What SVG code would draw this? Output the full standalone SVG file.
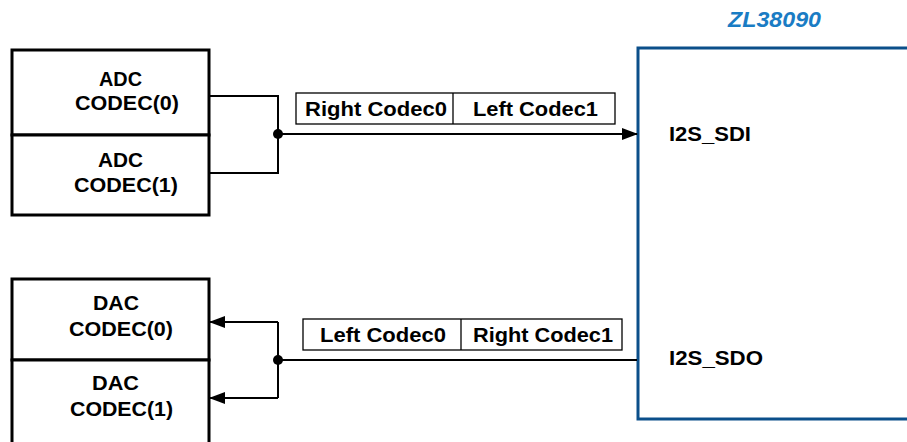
<svg xmlns="http://www.w3.org/2000/svg" width="907" height="442" viewBox="0 0 907 442">
<style>
.box{fill:#fff;stroke:#000;stroke-width:3}
.lbl{fill:#fff;stroke:#000;stroke-width:1.3}
.wire{fill:none;stroke:#000;stroke-width:2}
.t{font-family:"Liberation Sans",Arial,sans-serif;font-weight:bold;font-size:21px;fill:#000}
.s{font-family:"Liberation Sans",Arial,sans-serif;font-weight:bold;font-size:20px;fill:#000}
</style>
<defs>
<marker id="ah" markerWidth="16" markerHeight="12" refX="15" refY="6" orient="auto" markerUnits="userSpaceOnUse">
<path d="M0,0 L16,6 L0,12 Z" fill="#000"/>
</marker>
</defs>
<rect width="907" height="442" fill="#fff"/>
<g id="zl38090">
<rect x="638" y="48" width="290" height="371" fill="#fff" stroke="#0b4f8a" stroke-width="3"/>
<text x="728" y="27" textLength="93" lengthAdjust="spacingAndGlyphs" font-family="Liberation Sans,Arial,sans-serif" font-weight="bold" font-style="italic" font-size="22" fill="#1a7cc4">ZL38090</text>
<text class="t" x="669" y="141" textLength="82" lengthAdjust="spacingAndGlyphs">I2S_SDI</text>
<text class="t" x="669" y="365" textLength="94" lengthAdjust="spacingAndGlyphs">I2S_SDO</text>
</g>
<g id="adc0">
<rect class="box" x="12" y="50" width="197" height="85"/>
<text class="t" x="99" y="86" textLength="43" lengthAdjust="spacingAndGlyphs">ADC</text>
<text class="t" x="75" y="110" textLength="104" lengthAdjust="spacingAndGlyphs">CODEC(0)</text>
</g>
<g id="adc1">
<rect class="box" x="12" y="135" width="197" height="80"/>
<text class="t" x="98" y="167" textLength="45" lengthAdjust="spacingAndGlyphs">ADC</text>
<text class="t" x="74" y="192" textLength="104" lengthAdjust="spacingAndGlyphs">CODEC(1)</text>
</g>
<g id="dac0">
<rect class="box" x="12" y="279" width="197" height="81"/>
<text class="t" x="93" y="310" textLength="46" lengthAdjust="spacingAndGlyphs">DAC</text>
<text class="t" x="69" y="336" textLength="104" lengthAdjust="spacingAndGlyphs">CODEC(0)</text>
</g>
<g id="dac1">
<path class="box" d="M12,450 V360 H209 V450"/>
<text class="t" x="92" y="390" textLength="47" lengthAdjust="spacingAndGlyphs">DAC</text>
<text class="t" x="70" y="416" textLength="103" lengthAdjust="spacingAndGlyphs">CODEC(1)</text>
</g>
<g id="label-sdi">
<rect class="lbl" x="296" y="93" width="319" height="31"/>
<line x1="453" y1="93" x2="453" y2="124" stroke="#000" stroke-width="1.3"/>
<text class="s" x="305" y="116" textLength="142" lengthAdjust="spacingAndGlyphs">Right Codec0</text>
<text class="s" x="473" y="116" textLength="125" lengthAdjust="spacingAndGlyphs">Left Codec1</text>
</g>
<g id="label-sdo">
<rect class="lbl" x="303" y="319" width="319" height="31"/>
<line x1="461" y1="319" x2="461" y2="350" stroke="#000" stroke-width="1.3"/>
<text class="s" x="320" y="342" textLength="126" lengthAdjust="spacingAndGlyphs">Left Codec0</text>
<text class="s" x="473" y="342" textLength="140" lengthAdjust="spacingAndGlyphs">Right Codec1</text>
</g>
<g id="connectors">
<path class="wire" d="M209,96 H278 V173 H209"/>
<line class="wire" x1="278" y1="134" x2="637" y2="134" marker-end="url(#ah)"/>
<circle cx="278" cy="134" r="5" fill="#000"/>
<line class="wire" x1="637" y1="360" x2="278" y2="360"/>
<path class="wire" d="M278,322 V398"/>
<line class="wire" x1="278" y1="322" x2="210" y2="322" marker-end="url(#ah)"/>
<line class="wire" x1="278" y1="398" x2="210" y2="398" marker-end="url(#ah)"/>
<circle cx="278" cy="360" r="5" fill="#000"/>
</g>
</svg>
